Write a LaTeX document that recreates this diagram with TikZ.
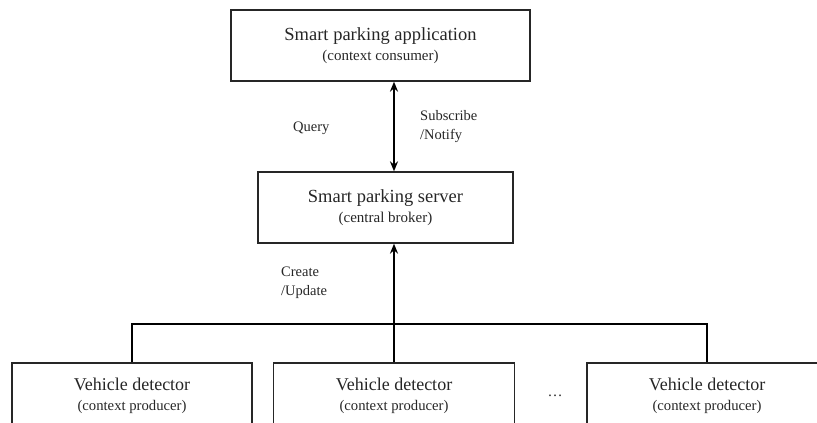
\documentclass[tikz,border=0pt]{standalone}
\usepackage{fontspec}
\setmainfont{Liberation Serif}
\usetikzlibrary{arrows.meta}
\begin{document}
\begin{tikzpicture}[x=1pt,y=-1pt,
  box/.style={draw=black!85, line width=1.3pt, align=center, inner sep=0pt, text=black!85, font=\fontsize{18}{20.5}\selectfont},
  conn/.style={draw=black, line width=2pt},
  tip/.style={-{Stealth[length=10pt,width=8pt]}},
  lbl/.style={font=\fontsize{14.5}{19}\selectfont, align=left, anchor=west, inner sep=0pt, text=black!85},
  sub/.style={font=\fontsize{15}{18}\selectfont}
]
\useasboundingbox (0,0) rectangle (817,423);
\clip (0,0) rectangle (817,423);
\node[box, minimum width=299pt, minimum height=71pt] (app) at (380.5,45.5)
  {{\fontsize{18.5}{20.5}\selectfont Smart parking application}\\{\fontsize{15}{18}\selectfont (context consumer)}};
\node[box, minimum width=255pt, minimum height=71pt] (srv) at (385.5,207.5)
  {{\fontsize{18.5}{20.5}\selectfont Smart parking server}\\{\fontsize{15}{18}\selectfont (central broker)}};
\node[box, minimum width=240pt, minimum height=66pt] (d1) at (132,396)
  {Vehicle detector\\{\fontsize{14.7}{18}\selectfont (context producer)}};
\node[box, minimum width=241pt, minimum height=66pt] (d2) at (394,396)
  {Vehicle detector\\{\fontsize{14.7}{18}\selectfont (context producer)}};
\node[box, minimum width=240pt, minimum height=66pt] (d3) at (707,396)
  {Vehicle detector\\{\fontsize{14.7}{18}\selectfont (context producer)}};
\node[inner sep=0pt, font=\fontsize{15}{18}\selectfont, text=black!85] (dots) at (555,396) {\dots};
% app <-> server
\draw[conn, {Stealth[length=10pt,width=8pt]}-{Stealth[length=10pt,width=8pt]}] (srv.north) ++(8.5,0) coordinate (sa) -- (sa |- app.south);
\node[lbl] (q) at (293,128) {Query};
\node[lbl] (sn) at (420,126.5) {Subscribe\\/Notify};
% bus
\coordinate (bus) at (394,324);
\draw[conn, line width=2.3pt] (d1.north) |- (bus) -| (d3.north);
\draw[conn, line width=2.3pt] (d2.north) -- (bus);
\draw[conn, tip] (bus) -- (bus |- srv.south);
\node[lbl] (cu) at (281,282.5) {Create\\/Update};
\end{tikzpicture}
\end{document}
